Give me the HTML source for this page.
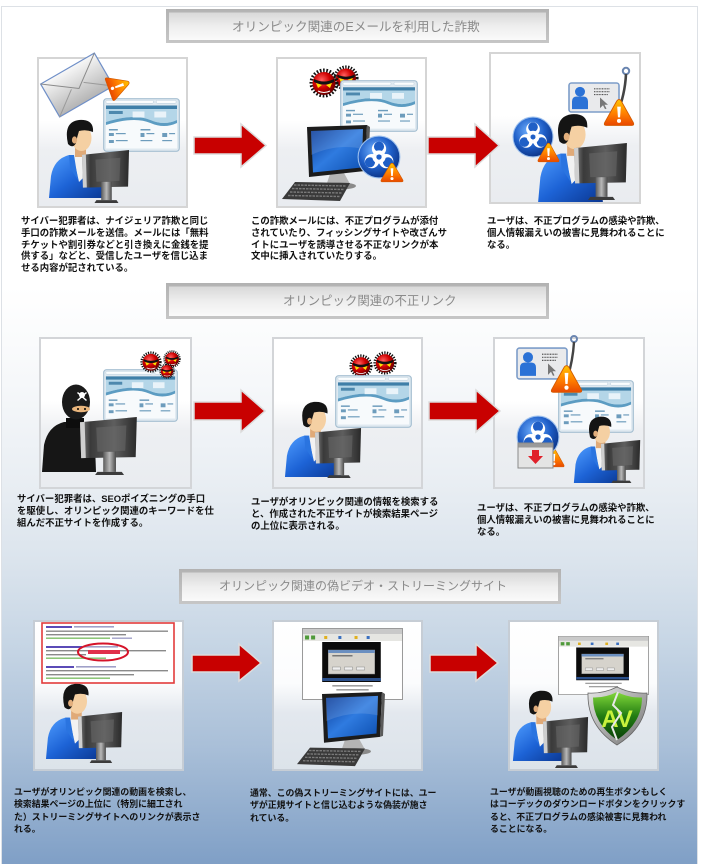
<!DOCTYPE html>
<html lang="ja">
<head>
<meta charset="utf-8">
<style>
  html,body{margin:0;padding:0;}
  body{width:701px;height:864px;overflow:hidden;background:#fff;position:relative;
       font-family:"Liberation Sans","Noto Sans CJK JP",sans-serif;}
  .frame{position:absolute;left:1px;top:6px;width:697px;height:858px;box-sizing:border-box;
         border:1px solid #dde1e6;border-bottom:none;
         background:linear-gradient(to bottom,#ffffff 0px,#ffffff 280px,#f6f8fa 375px,#e9eef3 475px,#dbe4ed 555px,#c7d6e5 635px,#a9bfd8 740px,#7f9fc6 858px);}
  svg.art{position:absolute;left:0;top:0;}
  .t{position:absolute;white-space:pre;font-weight:bold;color:#111;}
  .s1{font-size:9.4px;line-height:11.75px;}
  .s2{font-size:9.4px;line-height:12px;}
  .s3{font-size:8.9px;line-height:12.4px;}
  .ttl{position:absolute;white-space:nowrap;color:#8a8a8a;line-height:14px;
       font-family:"Liberation Sans","Noto Sans CJK JP",sans-serif;}
</style>
</head>
<body>
<div class="frame"></div>
<svg class="art" width="701" height="864" viewBox="0 0 701 864" xmlns="http://www.w3.org/2000/svg">
<defs>
  <linearGradient id="gPanel1" x1="0" y1="0" x2="0" y2="1">
    <stop offset="0" stop-color="#ffffff"/><stop offset=".42" stop-color="#ffffff"/>
    <stop offset=".62" stop-color="#edeff2"/><stop offset="1" stop-color="#e9ecf0"/>
  </linearGradient>
  <linearGradient id="gPanel3" x1="0" y1="0" x2="0" y2="1">
    <stop offset="0" stop-color="#ffffff"/><stop offset=".42" stop-color="#fbfcfd"/>
    <stop offset=".62" stop-color="#e3e8ee"/><stop offset="1" stop-color="#dce3ea"/>
  </linearGradient>
  <linearGradient id="gTitle" x1="0" y1="0" x2="0" y2="1">
    <stop offset="0" stop-color="#d8d8d8"/><stop offset=".5" stop-color="#eeeeee"/><stop offset="1" stop-color="#fafafa"/>
  </linearGradient>
  <linearGradient id="gTitleB" x1="0" y1="0" x2="0" y2="1">
    <stop offset="0" stop-color="#b2b2b2"/><stop offset="1" stop-color="#c6c6c6"/>
  </linearGradient>
  <linearGradient id="gJacket" x1="0" y1="0" x2="1" y2="1">
    <stop offset="0" stop-color="#4f9dff"/><stop offset=".5" stop-color="#1d63d6"/><stop offset="1" stop-color="#0a3690"/>
  </linearGradient>
  <linearGradient id="gMon" x1="0" y1="0" x2="1" y2="0">
    <stop offset="0" stop-color="#8a8a8a"/><stop offset=".18" stop-color="#3a3a3a"/>
    <stop offset=".6" stop-color="#5e5e5e"/><stop offset="1" stop-color="#2a2a2a"/>
  </linearGradient>
  <linearGradient id="gStand" x1="0" y1="0" x2="1" y2="0">
    <stop offset="0" stop-color="#5a5a5a"/><stop offset=".5" stop-color="#b8b8b8"/><stop offset="1" stop-color="#4a4a4a"/>
  </linearGradient>
  <linearGradient id="gWarn" x1="0" y1="0" x2="0" y2="1">
    <stop offset="0" stop-color="#ffc400"/><stop offset=".55" stop-color="#ff7e00"/><stop offset="1" stop-color="#e84800"/>
  </linearGradient>
  <radialGradient id="gBio" cx=".4" cy=".35" r=".7">
    <stop offset="0" stop-color="#72b2ff"/><stop offset=".55" stop-color="#1f5fc8"/><stop offset="1" stop-color="#0a2f80"/>
  </radialGradient>
  <radialGradient id="gRed" cx=".4" cy=".35" r=".7">
    <stop offset="0" stop-color="#ff6060"/><stop offset=".5" stop-color="#d00000"/><stop offset="1" stop-color="#5a0000"/>
  </radialGradient>
  <linearGradient id="gScreen" x1="0" y1="0" x2="1" y2="1">
    <stop offset="0" stop-color="#0a3a96"/><stop offset=".5" stop-color="#2f7be0"/><stop offset="1" stop-color="#0d4fb0"/>
  </linearGradient>
  <linearGradient id="gEnv" x1="0" y1="0" x2="0" y2="1">
    <stop offset="0" stop-color="#f8f8f8"/><stop offset="1" stop-color="#b4b4b4"/>
  </linearGradient>
  <linearGradient id="gShield" x1="0" y1="0" x2="0" y2="1">
    <stop offset="0" stop-color="#82d83a"/><stop offset=".5" stop-color="#227c12"/><stop offset="1" stop-color="#0a4008"/>
  </linearGradient>
  <linearGradient id="gRim" x1="0" y1="0" x2="1" y2="1">
    <stop offset="0" stop-color="#e8e8e8"/><stop offset="1" stop-color="#707070"/>
  </linearGradient>

  <symbol id="user" viewBox="0 0 60 80" preserveAspectRatio="none">
    <path d="M1 80 L3 58 Q6 41 21 37 L41 37 Q55 41 57 58 L59 80 Z" fill="url(#gJacket)"/>
    <path d="M25 37 L39 37 L35 60 L31 64 Z" fill="#f2f2f2"/>
    <path d="M21 37 L26 37 L30 62 L22 50 Z" fill="#2a74e0"/>
    <path d="M27 27 L38 27 L38 39 L27 39 Z" fill="#e0aa78"/>
    <ellipse cx="33.5" cy="20" rx="10" ry="13" fill="#f5d0a3"/>
    <path d="M20 26 Q15 4 31 2 Q46 1 45 14 Q38 11 31 13 Q29 19 28 25 Q25 31 20 26 Z" fill="#141414"/>
    <ellipse cx="26.5" cy="22" rx="2.6" ry="3.6" fill="#e2ae7c"/>
  </symbol>

  <symbol id="monb" viewBox="0 0 50 55" preserveAspectRatio="none">
    <path d="M0 5 L49 0 L48 38 L1 39 Z" fill="url(#gMon)"/>
    <path d="M0 5 L4 4.6 L5 38.9 L1 39 Z" fill="#cfcfcf"/>
    <path d="M14 10 L40 8 L39 32 L15 33 Z" fill="#6a6a6a" opacity=".55"/>
    <path d="M20 33 L31 33 L31 52 L20 52 Z" fill="url(#gStand)"/>
    <path d="M15 52 L36 52 L38 55 L13 55 Z" fill="#3c3c3c"/>
  </symbol>

  <symbol id="web" viewBox="0 0 78 54" preserveAspectRatio="none">
    <rect x=".7" y=".7" width="76.6" height="52.6" rx="3" fill="#dfe9f0" stroke="#a7c0d2" stroke-width="1.2"/>
    <rect x="3" y="2.3" width="48" height="3" rx="1" fill="#fbfdfe" stroke="#b9cddb" stroke-width=".5"/>
    <rect x="54" y="2.3" width="20" height="3" rx="1" fill="#fbfdfe" stroke="#b9cddb" stroke-width=".5"/>
    <rect x="3" y="7.5" width="72" height="43" fill="#f7fafc"/>
    <rect x="3" y="7.5" width="72" height="3.5" fill="#3f7fa8"/>
    <path d="M3 11 H75 V22 Q62 28 48 22 Q32 15 3 24 Z" fill="#b4d6e8"/>
    <path d="M3 24 Q32 15 48 22 Q62 28 75 22 V25 Q62 31 48 25 Q32 18 3 27 Z" fill="#5c9cc2"/>
    <rect x="6" y="13" width="14" height="3" fill="#4d88ad"/>
    <rect x="30" y="13.5" width="12" height="6" fill="#e9f3f9"/>
    <rect x="52" y="13.5" width="12" height="6" fill="#e9f3f9"/>
    <g fill="#6d9cbc">
      <rect x="6" y="31" width="9" height="1.5"/><rect x="38" y="31" width="10" height="1.5"/>
      <rect x="6" y="35" width="5" height="3"/><rect x="13" y="35" width="10" height="1.2"/>
      <rect x="38" y="35" width="4" height="4"/><rect x="44" y="35" width="8" height="1.2"/>
      <rect x="60" y="35" width="5" height="4"/><rect x="67" y="35" width="6" height="1.2"/>
      <rect x="6" y="42" width="5" height="3"/><rect x="13" y="42" width="12" height="1.2"/>
      <rect x="38" y="42" width="12" height="1.2"/><rect x="60" y="42" width="10" height="1.2"/>
    </g>
  </symbol>

  <symbol id="devil" viewBox="0 0 30 30" preserveAspectRatio="none">
    <circle cx="15" cy="15" r="12.5" fill="none" stroke="#111" stroke-width="4" stroke-dasharray="1.6 1.6"/>
    <circle cx="15" cy="15.5" r="11.5" fill="url(#gRed)"/>
    <path d="M5 11 Q15 16 25 11 L25 14 Q15 19 5 14Z" fill="#111"/>
    <path d="M7 15 L13 17 L9 20Z" fill="#ffe000"/>
    <path d="M23 15 L17 17 L21 20Z" fill="#ffe000"/>
    <path d="M9 23 Q15 26 21 23" stroke="#fff" stroke-width="1" fill="none"/>
  </symbol>

  <symbol id="warn" viewBox="0 0 30 27" preserveAspectRatio="none">
    <path d="M15 1.5 Q16.5 1.5 17.5 3.5 L28.5 23 Q29.5 25.5 27 25.5 L3 25.5 Q0.5 25.5 1.5 23 L12.5 3.5 Q13.5 1.5 15 1.5Z" fill="url(#gWarn)" stroke="#d45a00" stroke-width=".8"/>
    <path d="M13.3 8 H16.7 L16 18 H14 Z" fill="#fff"/>
    <circle cx="15" cy="21.3" r="1.9" fill="#fff"/>
  </symbol>

  <symbol id="bio" viewBox="0 0 40 40" preserveAspectRatio="none">
    <circle cx="20" cy="20" r="19" fill="url(#gBio)" stroke="#9cc0ee" stroke-width="1"/>
    <g fill="#fff"><circle cx="20" cy="12.5" r="6.5"/><circle cx="26.5" cy="23.75" r="6.5"/><circle cx="13.5" cy="23.75" r="6.5"/></g>
    <g fill="#1f5fc6"><circle cx="20" cy="10.5" r="4.6"/><circle cx="28.2" cy="24.8" r="4.6"/><circle cx="11.8" cy="24.8" r="4.6"/></g>
    <circle cx="20" cy="20" r="5.2" fill="none" stroke="#fff" stroke-width="1.6"/>
    <circle cx="20" cy="20" r="2.4" fill="#1f5fc6"/>
  </symbol>

  <symbol id="idc" viewBox="0 0 52 32" preserveAspectRatio="none">
    <rect x="1" y="1" width="50" height="30" rx="2.5" fill="#e9eaec" stroke="#7d9dc9" stroke-width="1.6"/>
    <circle cx="12" cy="10" r="5" fill="#2b72d6"/>
    <path d="M4 28 V20 Q4 15 9 15 H15 Q20 15 20 20 V28 Z" fill="#2b72d6"/>
    <path d="M26 7 H42 M26 10 H42 M26 13 H40" stroke="#555" stroke-width="1.2" stroke-dasharray="1 .6"/>
    <path d="M32 16 L32 27 L35 24 L37 28 L38.5 27.5 L36.5 23.5 L40 23.5 Z" fill="#777"/>
  </symbol>

  <symbol id="desk" viewBox="0 0 90 80" preserveAspectRatio="none">
    <path d="M48 49 L62 48 L68 59 L44 61Z" fill="#b4b4b4"/>
    <ellipse cx="58" cy="61" rx="16" ry="3.5" fill="#8a8a8a"/>
    <path d="M25 2 L85 0 L83 46 L27 52Z" fill="#1c1c1c"/>
    <path d="M85 0 L88 2 L86 45 L83 46Z" fill="#5a5a5a"/>
    <path d="M29 6 L81 4 L79.5 42.5 L31 47.5Z" fill="url(#gScreen)"/>
    <path d="M29 30 Q55 18 81 24 L81 4 L29 6Z" fill="#fff" opacity=".12"/>
    <path d="M13 57 L68 58 L58 76 L0 74Z" fill="#3a3a3a"/>
    <path d="M12 60 L64 61 M10 63.5 L62 64.5 M8 67 L60 68 M6 70.5 L58 71.5" stroke="#7a7a7a" stroke-width="1.4" stroke-dasharray="2.5 1"/>
  </symbol>

  <symbol id="vid" viewBox="0 0 100 72" preserveAspectRatio="none">
    <rect x=".5" y=".5" width="99" height="71" fill="#fff" stroke="#9a9a9a"/>
    <rect x="1" y="1" width="98" height="5" fill="#c9c9c9"/>
    <rect x="1" y="6" width="98" height="7" fill="#e6e6e2"/>
    <rect x="3" y="7.5" width="4" height="4" fill="#4f9a3a"/>
    <rect x="9" y="7.5" width="4" height="4" fill="#4f9a3a"/>
    <rect x="22" y="8" width="3" height="3" fill="#e0b020"/>
    <rect x="36" y="8" width="3" height="3" fill="#3a6fc0"/>
    <rect x="52" y="8" width="3" height="3" fill="#e0b020"/>
    <rect x="64" y="8" width="3" height="3" fill="#3a6fc0"/>
    <rect x="20" y="14" width="58" height="40" fill="#0b0b0b"/>
    <rect x="26" y="22" width="46" height="24" fill="#d6d3cc" stroke="#888" stroke-width=".5"/>
    <rect x="26" y="22" width="46" height="3" fill="#6b8fc0"/>
    <rect x="30" y="27" width="20" height="1.5" fill="#777"/>
    <rect x="30" y="39" width="8" height="3" fill="#eee" stroke="#777" stroke-width=".4"/>
    <rect x="42" y="39" width="8" height="3" fill="#eee" stroke="#777" stroke-width=".4"/>
    <rect x="54" y="39" width="8" height="3" fill="#eee" stroke="#777" stroke-width=".4"/>
    <rect x="20" y="50" width="58" height="3" fill="#2a4f8a"/>
    <rect x="30" y="57" width="40" height="1.6" fill="#a0a0a0"/>
    <rect x="34" y="61" width="32" height="1.6" fill="#a0a0a0"/>
  </symbol>
</defs>

<!-- Title boxes -->
<rect x="166" y="9" width="383" height="34" fill="url(#gTitleB)"/>
<rect x="169" y="12.5" width="377" height="27.5" fill="url(#gTitle)"/>
<rect x="166" y="283" width="383" height="36" fill="url(#gTitleB)"/>
<rect x="169" y="286.5" width="377" height="29.5" fill="url(#gTitle)"/>
<rect x="179" y="569" width="382" height="35" fill="url(#gTitleB)"/>
<rect x="182" y="572.5" width="376" height="28.5" fill="url(#gTitle)"/>

<!-- Panels -->
<g stroke-width="2">
  <rect x="38" y="58" width="149" height="149" fill="url(#gPanel1)" stroke="#d5d5d5"/>
  <rect x="277" y="58" width="149" height="149" fill="url(#gPanel1)" stroke="#d5d5d5"/>
  <rect x="490" y="53" width="150" height="150" fill="url(#gPanel1)" stroke="#d5d5d5"/>
  <rect x="40" y="338" width="151" height="150" fill="url(#gPanel1)" stroke="#d3d5d8"/>
  <rect x="273" y="338" width="149" height="150" fill="url(#gPanel1)" stroke="#d3d5d8"/>
  <rect x="494" y="338" width="150" height="150" fill="url(#gPanel1)" stroke="#d3d5d8"/>
  <rect x="34" y="621" width="149" height="149" fill="url(#gPanel3)" stroke="#c6cdd5"/>
  <rect x="273" y="621" width="149" height="149" fill="url(#gPanel3)" stroke="#c6cdd5"/>
  <rect x="509" y="621" width="149" height="149" fill="url(#gPanel3)" stroke="#c6cdd5"/>
</g>

<!-- Arrows -->
<g fill="#c80000" stroke="#dcdcdc" stroke-width="1.5" stroke-linejoin="miter">
  <path d="M194 137 H241 V124 L266 145.5 L241 167 V154 H194 Z"/>
  <path d="M428 137 H475 V124 L499 145.5 L475 167 V154 H428 Z"/>
  <path d="M194 402 H241 V390 L265 411 L241 432 V420 H194 Z"/>
  <path d="M429 402 H476 V390 L500 411 L476 432 V420 H429 Z"/>
  <path d="M192 655 H239 V644 L261 663 L239 681 V672 H192 Z"/>
  <path d="M430 655 H476 V644 L498 663 L476 681 V672 H430 Z"/>
</g>

<!-- Panel 1-1 -->
<use href="#web" x="103" y="98" width="77" height="54"/>
<g transform="translate(77,85) rotate(-30)">
  <rect x="-31" y="-19" width="62" height="38" fill="url(#gEnv)" stroke="#6f8fc8" stroke-width="1.2"/>
  <path d="M-31 -19 L0 4 L31 -19" stroke="#8a8a8a" stroke-width="1" fill="none"/>
  <path d="M-31 19 L-7 1 M31 19 L7 1" stroke="#9a9a9a" stroke-width="1" fill="none"/>
</g>
<use href="#warn" x="-13" y="-12" width="26" height="24" transform="translate(119,86) rotate(70)"/>
<use href="#user" x="48" y="118" width="60" height="80"/>
<use href="#monb" x="82" y="150" width="48" height="53"/>

<!-- Panel 1-2 -->
<use href="#devil" x="333" y="65" width="26" height="26"/>
<use href="#devil" x="309" y="68" width="30" height="30"/>
<use href="#web" x="340" y="80" width="78" height="52"/>
<use href="#desk" x="282" y="125" width="90" height="80"/>
<use href="#bio" x="357" y="135" width="44" height="44"/>
<use href="#warn" x="380" y="162" width="24" height="21"/>

<!-- Panel 1-3 -->
<circle cx="626" cy="71" r="3.2" fill="none" stroke="#6a85b0" stroke-width="2"/>
<path d="M626 74 Q625 95 617 114" stroke="#444" stroke-width="2.6" fill="none"/>
<use href="#idc" x="568" y="82" width="52" height="31"/>
<use href="#warn" x="603" y="98" width="32" height="29"/>
<use href="#user" x="537" y="112" width="67" height="90"/>
<use href="#monb" x="574" y="143" width="54" height="57"/>
<use href="#bio" x="512" y="116" width="42" height="42"/>
<use href="#warn" x="537" y="142" width="23" height="21"/>

<!-- Panel 2-1 -->
<use href="#web" x="103" y="369" width="75" height="53"/>
<use href="#devil" x="140" y="351" width="22" height="22"/>
<use href="#devil" x="163" y="350" width="18" height="18"/>
<use href="#devil" x="159" y="363" width="16" height="16"/>
<path d="M42 472 L44 445 Q48 426 64 422 L84 422 Q93 428 95 445 L96 472 Z" fill="#161616"/>
<path d="M66 418 L84 418 L84 428 L66 428Z" fill="#0d0d0d"/>
<ellipse cx="76" cy="402" rx="14" ry="17.5" fill="#1a1a1a"/>
<ellipse cx="81" cy="409" rx="9" ry="3.2" fill="#e9b57c"/>
<circle cx="78" cy="409" r="1" fill="#000"/><circle cx="85" cy="409" r="1" fill="#000"/>
<circle cx="82" cy="395" r="3" fill="#fff"/>
<path d="M77.5 400.5 L86.5 392.5 M77.5 392.5 L86.5 400.5" stroke="#fff" stroke-width="1.5"/>
<use href="#monb" x="80" y="417" width="58" height="58"/>

<!-- Panel 2-2 -->
<use href="#devil" x="349" y="354" width="24" height="24"/>
<use href="#devil" x="373" y="351" width="24" height="24"/>
<use href="#web" x="335" y="375" width="77" height="53"/>
<use href="#user" x="284" y="400" width="58" height="77"/>
<use href="#monb" x="315" y="428" width="47" height="50"/>

<!-- Panel 2-3 -->
<use href="#web" x="558" y="380" width="76" height="53"/>
<circle cx="574" cy="339" r="3" fill="none" stroke="#6a85b0" stroke-width="2"/>
<path d="M574 342 Q573 360 567 380" stroke="#444" stroke-width="2.4" fill="none"/>
<use href="#idc" x="516" y="347" width="52" height="33"/>
<use href="#warn" x="550" y="364" width="33" height="30"/>
<use href="#warn" x="543" y="448" width="22" height="20"/>
<use href="#bio" x="516" y="415" width="44" height="44"/>
<rect x="518" y="443" width="35" height="25" fill="#e4e4e4" stroke="#8a8a8a" stroke-width="1"/>
<rect x="518.5" y="443.5" width="34" height="4" fill="#9a9a9a"/>
<path d="M532 450 H539 V456 H543 L535.5 464 L528 456 H532 Z" fill="#e0202a"/>
<use href="#user" x="573" y="415" width="51" height="68"/>
<use href="#monb" x="601" y="440" width="40" height="43"/>

<!-- Panel 3-1 -->
<rect x="42" y="623" width="132" height="60" fill="#fff" stroke="#e23b3b" stroke-width="1.6"/>
<g>
  <rect x="46" y="626" width="26" height="2" fill="#5b4bb7"/><rect x="74" y="626" width="40" height="1.6" fill="#a0a0c8"/>
  <rect x="46" y="630.5" width="122" height="1.4" fill="#8a8a8a"/><rect x="46" y="634" width="80" height="1.4" fill="#8a8a8a"/>
  <rect x="46" y="637.5" width="64" height="1.4" fill="#7fbf6a"/><rect x="112" y="637.5" width="20" height="1.4" fill="#a0a0c8"/>
  <rect x="46" y="646" width="36" height="2" fill="#5b4bb7"/><rect x="84" y="646" width="34" height="1.6" fill="#a0a0c8"/>
  <rect x="46" y="650" width="120" height="1.4" fill="#8a8a8a"/><rect x="46" y="654" width="40" height="1.4" fill="#8a8a8a"/>
  <rect x="46" y="657.5" width="60" height="1.4" fill="#7fbf6a"/>
  <rect x="46" y="666" width="28" height="2" fill="#5b4bb7"/><rect x="76" y="666" width="40" height="1.6" fill="#a0a0c8"/>
  <rect x="46" y="670" width="122" height="1.4" fill="#8a8a8a"/><rect x="46" y="674" width="88" height="1.4" fill="#8a8a8a"/>
  <rect x="46" y="677.5" width="64" height="1.4" fill="#7fbf6a"/>
  <ellipse cx="103" cy="652" rx="25" ry="8.5" fill="none" stroke="#d5142a" stroke-width="2"/>
  <rect x="88" y="650" width="32" height="4" fill="#e0304a"/>
</g>
<use href="#user" x="45" y="682" width="58" height="77"/>
<use href="#monb" x="78" y="712" width="45" height="51"/>

<!-- Panel 3-2 -->
<use href="#vid" x="302" y="628" width="101" height="72"/>
<use href="#desk" x="297" y="692" width="90" height="78"/>

<!-- Panel 3-3 -->
<use href="#vid" x="558" y="636" width="91" height="59"/>
<path d="M617 687 Q631 694 647 693 Q648 726 617 745 Q587 726 588 693 Q603 694 617 687 Z" fill="url(#gRim)" stroke="#666" stroke-width=".8"/>
<path d="M617 692 Q629 698 642 697.5 Q642 723 617 740 Q593 723 593 697.5 Q605 698 617 692 Z" fill="url(#gShield)"/>
<text x="617" y="727" font-family="Liberation Sans, sans-serif" font-weight="bold" font-size="24" fill="#c8f23c" text-anchor="middle">AV</text>
<path d="M618 692 L613 705 L621 713 L612 727 L617 740" stroke="#e8e8e8" stroke-width="2" fill="none"/>
<use href="#user" x="512" y="689" width="54" height="72"/>
<use href="#monb" x="543" y="717" width="46" height="51"/>
</svg>

<!-- Titles -->
<div class="ttl" style="left:232px;top:20px;font-size:12.6px;">オリンピック関連のEメールを利用した詐欺</div>
<div class="ttl" style="left:283px;top:294px;font-size:12.4px;">オリンピック関連の不正リンク</div>
<div class="ttl" style="left:219px;top:579px;font-size:12px;">オリンピック関連の偽ビデオ・ストリーミングサイト</div>

<!-- Section 1 text -->
<div class="t s1" style="left:21px;top:215px;">サイバー犯罪者は、ナイジェリア詐欺と同じ
手口の詐欺メールを送信。メールには「無料
チケットや割引券などと引き換えに金銭を提
供する」などと、受信したユーザを信じ込ま
せる内容が記されている。</div>
<div class="t s1" style="left:251px;top:215px;">この詐欺メールには、不正プログラムが添付
されていたり、フィッシングサイトや改ざんサ
イトにユーザを誘導させる不正なリンクが本
文中に挿入されていたりする。</div>
<div class="t s1" style="left:487px;top:215px;">ユーザは、不正プログラムの感染や詐欺、
個人情報漏えいの被害に見舞われることに
なる。</div>

<!-- Section 2 text -->
<div class="t s2" style="left:17px;top:493px;">サイバー犯罪者は、SEOポイズニングの手口
を駆使し、オリンピック関連のキーワードを仕
組んだ不正サイトを作成する。</div>
<div class="t s2" style="left:251px;top:496px;">ユーザがオリンピック関連の情報を検索する
と、作成された不正サイトが検索結果ページ
の上位に表示される。</div>
<div class="t s2" style="left:477px;top:502px;">ユーザは、不正プログラムの感染や詐欺、
個人情報漏えいの被害に見舞われることに
なる。</div>

<!-- Section 3 text -->
<div class="t s3" style="left:14px;top:786px;">ユーザがオリンピック関連の動画を検索し、
検索結果ページの上位に（特別に細工され
た）ストリーミングサイトへのリンクが表示さ
れる。</div>
<div class="t s3" style="left:250px;top:787px;">通常、この偽ストリーミングサイトには、ユー
ザが正規サイトと信じ込むような偽装が施さ
れている。</div>
<div class="t s3" style="left:490px;top:786px;">ユーザが動画視聴のための再生ボタンもしく
はコーデックのダウンロードボタンをクリックす
ると、不正プログラムの感染被害に見舞われ
ることになる。</div>
</body>
</html>
